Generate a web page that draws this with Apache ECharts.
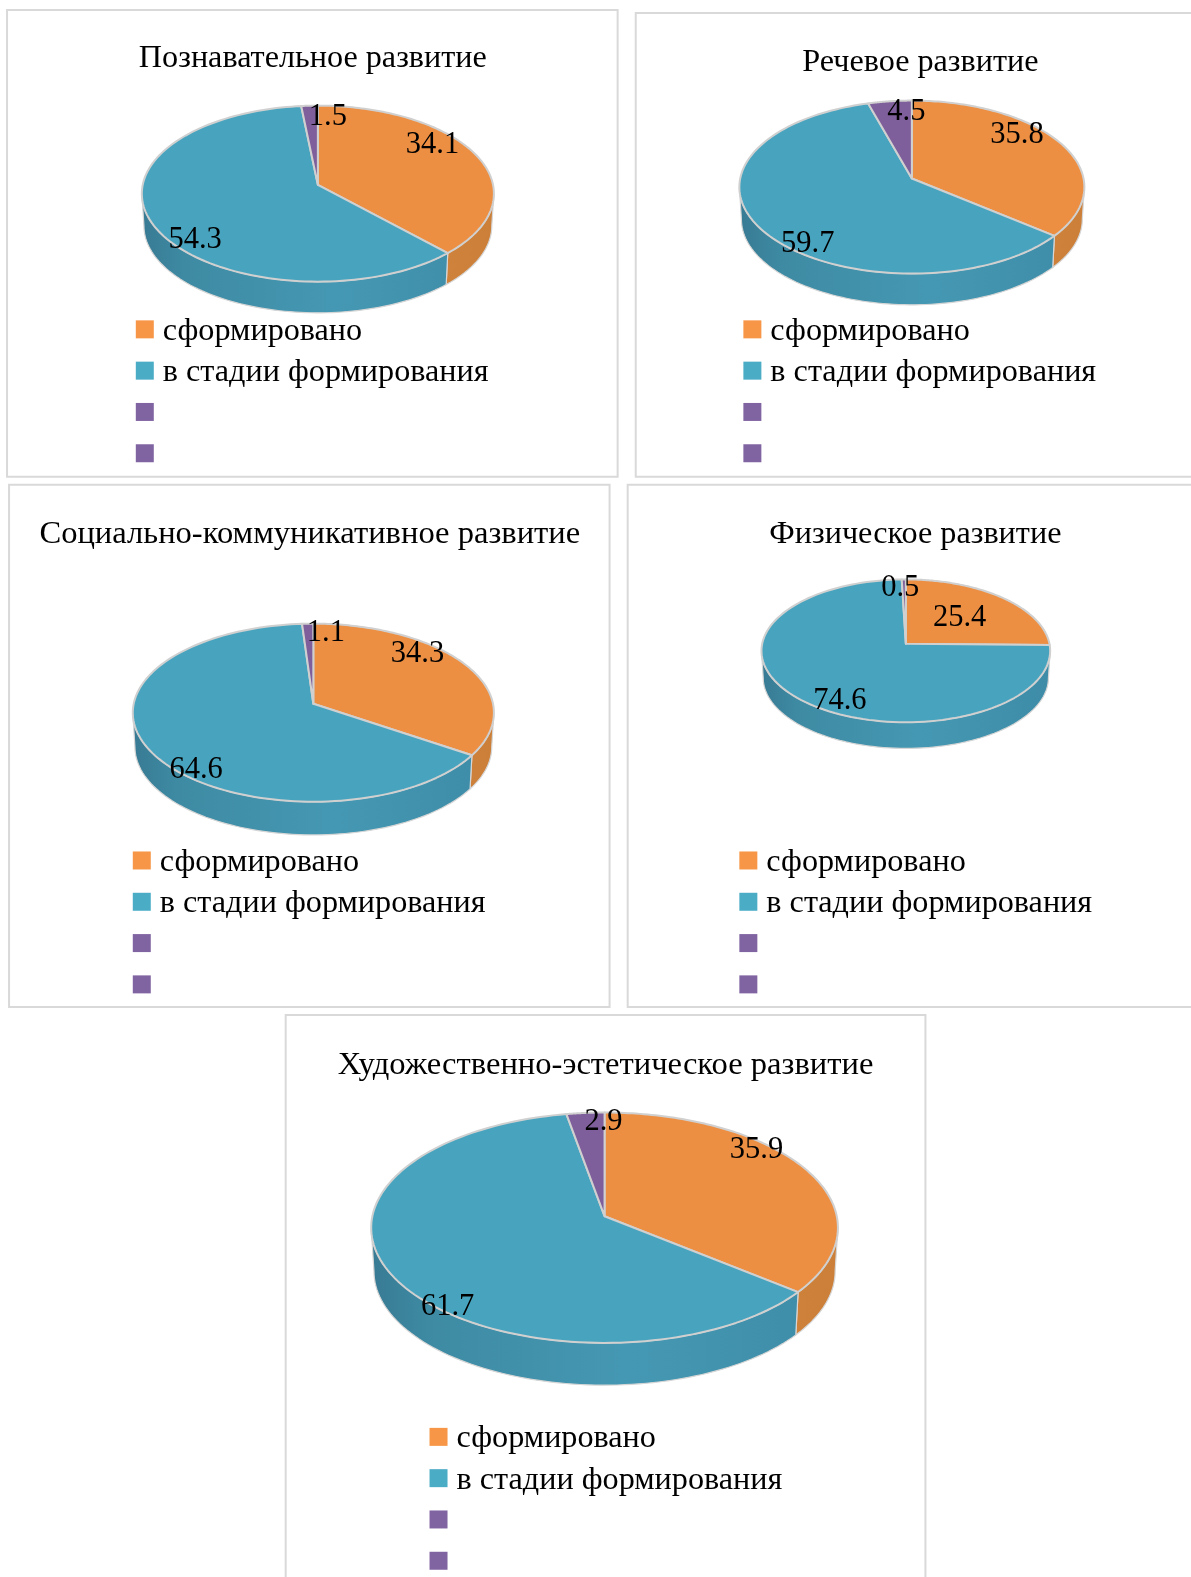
<!DOCTYPE html>
<html>
<head>
<meta charset="utf-8">
<title>Развитие</title>
<script src="https://cdn.jsdelivr.net/npm/echarts@6/dist/echarts.min.js"></script>
<style>
html, body { margin: 0; padding: 0; background: #fff; overflow: hidden; }
#main { width: 1191px; height: 1577px; }
</style>
</head>
<body>
<div id="main"></div>
<script>
// one value per chart, in the order of chartTitles
const chartTitles = ['Познавательное развитие', 'Речевое развитие', 'Социально-коммуникативное развитие', 'Физическое развитие', 'Художественно-эстетическое развитие'];
const legendNames = ['сформировано', 'в стадии формирования', ' ', '  '];
const formed = [34.1, 35.8, 34.3, 25.4, 35.9];
const inProgress = [54.3, 59.7, 64.6, 74.6, 61.7];
const rest = [1.5, 4.5, 1.1, 0.5, 2.9];
const spare = [];

// layout below is measured on the picture, k brings it to page pixels
const k = 1191 / 1184;
const FONT = '"Liberation Serif", serif';
const LABEL_SIZE = 30.5;
const LEGEND_SIZE = 32.2;
const PERSPECTIVE = -0.1;
const layout = [
    { box: [7, 10, 607, 464], cx: 316, cy: 192.5, rx: 175, ry: 87.5, depth: 31, title: [311, 58], titleSize: 32.2, legend: [135, 313.5], labels: [[430, 144], [194, 239], [326, 116]] },
    { box: [632, 13, 600, 461], cx: 906.5, cy: 186, rx: 171.5, ry: 86, depth: 31, title: [915, 62], titleSize: 32.2, legend: [739, 313.5], labels: [[1011, 134], [803, 243], [901, 111]] },
    { box: [9, 482, 597, 519], cx: 311.5, cy: 708.5, rx: 179.5, ry: 88.5, depth: 33, title: [308, 531], titleSize: 32.6, legend: [132, 841.5], labels: [[415, 650], [195, 765], [324, 629]] },
    { box: [624, 482, 600, 519], cx: 900.5, cy: 647, rx: 143.5, ry: 71, depth: 26, title: [910, 531], titleSize: 32.2, legend: [735, 841.5], labels: [[954, 614], [835, 697], [895, 585]] },
    { box: [284, 1009, 636, 600], cx: 601, cy: 1220.5, rx: 232, ry: 114.5, depth: 42, title: [602, 1059], titleSize: 32.6, legend: [427, 1414.5], labels: [[752, 1143], [445, 1299], [600, 1115]] }
];

const legendColors = ['#F79646', '#4BACC6', '#8064A2', '#8064A2'];
const topColors = ['#EC8F43', '#48A4BE', '#7F5F9B'];
const wallStops = [
    [[0, '#c4763a'], [0.5, '#d68a42'], [1, '#cb7f38']],
    [[0, '#387a93'], [0.12, '#3e8aa3'], [0.55, '#4598b3'], [1, '#3e8ca7']],
    [[0, '#6a5084'], [1, '#6a5084']]
];
const valueLists = [formed, inProgress, rest];

// circle to ellipse with the centre pushed away from the viewer, as the tilted pie shows it
function project(angle, p, grow, drop) {
    const x = Math.sin(angle);
    const y = -Math.cos(angle);
    const d = 1 + PERSPECTIVE * y;
    const px = x * Math.sqrt(1 - PERSPECTIVE * PERSPECTIVE) / d;
    const py = (y + PERSPECTIVE) / d;
    return [(p.cx + px * p.rx * grow) * k, (p.cy + py * p.ry * grow + drop) * k];
}

function ellipseAngle(angle) {
    const pt = project(angle, { cx: 0, cy: 0, rx: 1, ry: 1 }, 1 / k, 0);
    let a = Math.atan2(pt[0], -pt[1]);
    if (a < 0) a += Math.PI * 2;
    return a;
}

function ellipsePoint(a, p, grow, drop) {
    return [(p.cx + Math.sin(a) * p.rx * grow) * k, (p.cy - Math.cos(a) * p.ry * grow + drop) * k];
}

function renderSlice(seriesIndex) {
    return function (params, api) {
        const i = params.dataIndex;
        const p = layout[i];
        const value = api.value(0);
        const total = formed[i] + inProgress[i] + rest[i];
        let before = 0;
        for (let s = 0; s < seriesIndex; s++) before += valueLists[s][i];
        const a0 = before / total * Math.PI * 2;
        const a1 = (before + value) / total * Math.PI * 2;
        const children = [];

        const e0 = seriesIndex === 0 && before === 0 ? 0 : ellipseAngle(a0);
        const e1 = ellipseAngle(a1) || Math.PI * 2;
        const end = a1 >= Math.PI * 2 - 1e-6 ? Math.PI * 2 : e1;

        // side wall, only the part that faces the viewer
        const w0 = Math.max(e0, Math.PI / 2);
        const w1 = Math.min(end, Math.PI * 1.5);
        if (w1 > w0) {
            const topEdge = [];
            const bottomEdge = [];
            for (let n = 0; n <= 80; n++) {
                const a = w0 + (w1 - w0) * n / 80;
                topEdge.push(ellipsePoint(a, p, 1, 0));
                bottomEdge.unshift(ellipsePoint(a, p, 0.988, p.depth + p.ry * 0.012));
            }
            children.push({
                type: 'polygon',
                shape: { points: topEdge.concat(bottomEdge) },
                style: {
                    fill: {
                        type: 'linear', global: true,
                        x: (p.cx - p.rx) * k, y: 0, x2: (p.cx + p.rx) * k, y2: 0,
                        colorStops: wallStops[seriesIndex].map(s => ({ offset: s[0], color: s[1] }))
                    },
                    stroke: '#d6d6d6',
                    lineWidth: 1.2
                },
                z2: 1
            });
        }

        // top face
        const pts = [];
        pts.push(project(0, { cx: p.cx, cy: p.cy, rx: p.rx, ry: p.ry }, 0, p.ry * PERSPECTIVE));
        for (let n = 0; n <= 120; n++) {
            pts.push(project(a0 + (a1 - a0) * n / 120, p, 1, 0));
        }
        children.push({
            type: 'polygon',
            shape: { points: pts },
            style: { fill: topColors[seriesIndex], stroke: '#d0d0d0', lineWidth: 2, lineJoin: 'round' },
            z2: 2
        });

        children.push({
            type: 'text',
            x: p.labels[seriesIndex][0] * k,
            y: p.labels[seriesIndex][1] * k,
            style: {
                text: String(value),
                fontFamily: FONT,
                fontSize: LABEL_SIZE,
                fill: '#000',
                align: 'center',
                verticalAlign: 'middle'
            },
            z2: 10
        });
        return { type: 'group', children: children };
    };
}

const chart = echarts.init(document.getElementById('main'));
chart.setOption({
    animation: false,
    backgroundColor: '#fff',
    title: layout.map((p, i) => ({
        text: chartTitles[i],
        left: p.title[0] * k,
        top: p.title[1] * k,
        textAlign: 'center',
        textVerticalAlign: 'middle',
        padding: 0,
        textStyle: { fontFamily: FONT, fontSize: p.titleSize, fontWeight: 'normal', color: '#000' }
    })),
    legend: layout.map(p => ({
        data: legendNames,
        orient: 'vertical',
        left: p.legend[0] * k,
        top: p.legend[1] * k,
        height: 200,
        padding: 0,
        itemWidth: 18,
        itemHeight: 18,
        itemGap: 9.3,
        icon: 'rect',
        selectedMode: false,
        align: 'left',
        formatter: '{t|{name}}',
        textStyle: {
            rich: {
                t: { fontFamily: FONT, fontSize: LEGEND_SIZE, color: '#000', padding: [4, 0, 0, 4] }
            }
        }
    })),
    graphic: layout.map(p => ({
        type: 'rect',
        silent: true,
        shape: { x: p.box[0] * k, y: p.box[1] * k, width: p.box[2] * k, height: p.box[3] * k },
        style: { fill: '#fff', stroke: '#d9d9d9', lineWidth: 2 }
    })),
    series: legendNames.map((name, s) => ({
        type: 'custom',
        name: name,
        coordinateSystem: 'none',
        silent: true,
        itemStyle: { color: legendColors[s] },
        data: s < 3 ? valueLists[s] : spare,
        renderItem: s < 3 ? renderSlice(s) : function () { return null; }
    }))
});
</script>
</body>
</html>
